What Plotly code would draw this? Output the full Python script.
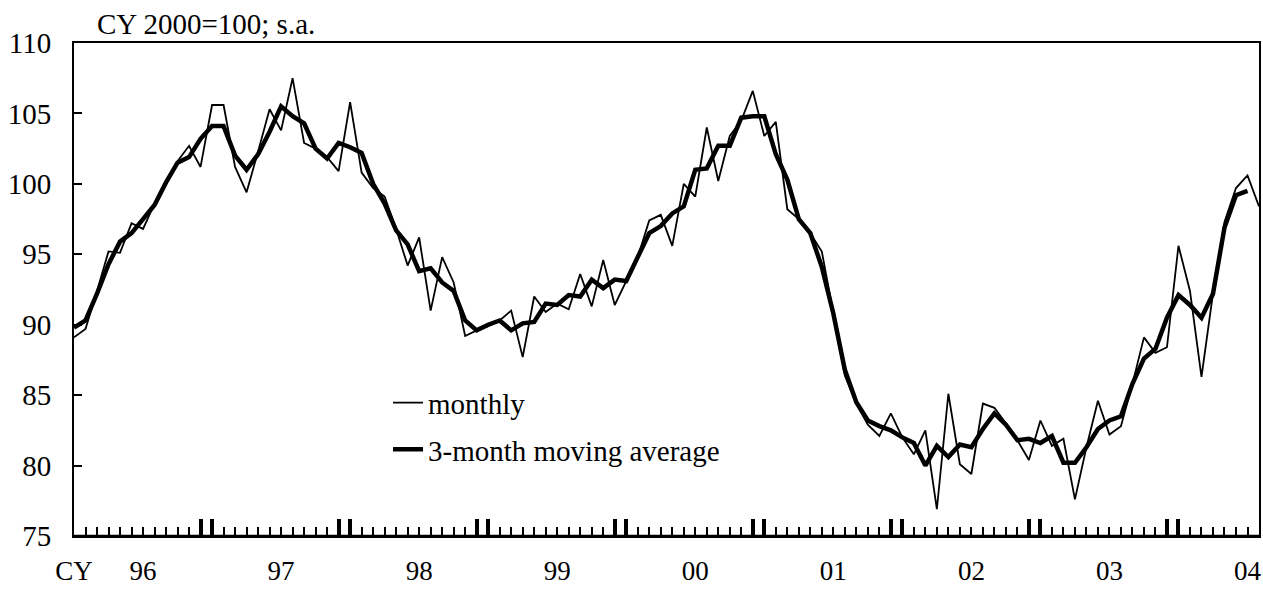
import plotly.graph_objects as go

# month index 0 = Jan 1996
months = list(range(104))

monthly = [89.1, 89.7, 92.4, 95.2, 95.1, 97.2, 96.8, 98.6, 100.2, 101.6,
           102.7, 101.2, 105.6, 105.6, 101.2, 99.4, 102.3, 105.3, 103.8, 107.5,
           102.9, 102.5, 101.9, 100.9, 105.8, 100.8, 99.7, 99.1, 96.8, 94.2,
           96.2, 91.0, 94.8, 93.0, 89.2, 89.6, 89.9, 90.3, 91.0, 87.7,
           92.0, 90.9, 91.5, 91.1, 93.6, 91.3, 94.6, 91.4, 93.1, 94.8,
           97.4, 97.8, 95.6, 100.0, 99.1, 104.0, 100.2, 103.4, 104.5, 106.6,
           103.4, 104.4, 98.2, 97.5, 96.5, 95.2, 90.8, 86.4, 84.4, 82.9,
           82.1, 83.7, 82.0, 80.8, 82.5, 76.9, 85.1, 80.1, 79.4, 84.4,
           84.1, 83.0, 81.8, 80.4, 83.2, 81.4, 81.9, 77.6, 81.3, 84.6,
           82.2, 82.8, 85.8, 89.1, 88.0, 88.4, 95.6, 92.4, 86.3, 92.2,
           97.3, 99.7, 100.6, 98.4]

ma3 = [89.8, 90.3, 92.2, 94.3, 95.9, 96.5, 97.5, 98.5, 100.1, 101.5,
       101.9, 103.2, 104.1, 104.1, 102.0, 101.0, 102.1, 103.7, 105.5, 104.8,
       104.3, 102.5, 101.8, 102.9, 102.6, 102.2, 100.0, 98.6, 96.7, 95.7,
       93.8, 94.0, 93.0, 92.4, 90.3, 89.6, 90.0, 90.3, 89.6, 90.1,
       90.2, 91.5, 91.4, 92.1, 92.0, 93.2, 92.6, 93.2, 93.1, 94.8,
       96.5, 97.0, 97.9, 98.4, 101.0, 101.1, 102.7, 102.7, 104.7, 104.8,
       104.8, 102.1, 100.3, 97.5, 96.5, 94.1, 90.8, 86.8, 84.5, 83.2,
       82.8, 82.5, 82.0, 81.6, 80.0, 81.4, 80.6, 81.5, 81.3, 82.6,
       83.7, 82.9, 81.8, 81.9, 81.6, 82.1, 80.2, 80.2, 81.3, 82.6,
       83.2, 83.5, 85.8, 87.6, 88.3, 90.5, 92.1, 91.4, 90.5, 92.2,
       96.9, 99.2, 99.5]

year_labels = ["96", "97", "98", "99", "00", "01", "02", "03", "04"]
year_label_pos = [6 + 12 * k for k in range(len(year_labels))]
heavy_ticks = [0] + [v for k in range(1, 9) for v in (12 * k - 1, 12 * k)]
y_ticks = [75, 80, 85, 90, 95, 100, 105, 110]

FONT = "Liberation Serif, Times New Roman, serif"
FS = 29

tick_text = []
for m in months:
    if m == 0:
        tick_text.append("CY")
    elif m in year_label_pos:
        tick_text.append(year_labels[year_label_pos.index(m)])
    else:
        tick_text.append("")

fig = go.Figure()
fig.add_trace(go.Scatter(
    x=months[:len(ma3)], y=ma3, mode="lines", name="3-month moving average",
    line=dict(color="black", width=4.5), xaxis="x2", yaxis="y",
    legendrank=2, legendgroup="b"))
fig.add_trace(go.Scatter(
    x=months, y=monthly, mode="lines", name="monthly",
    line=dict(color="black", width=1.8), xaxis="x", yaxis="y",
    legendrank=1, legendgroup="a"))

fig.update_layout(
    width=1263, height=589,
    margin=dict(l=74, r=4, t=43, b=53, autoexpand=False),
    paper_bgcolor="white", plot_bgcolor="white",
    font=dict(family=FONT, size=FS, color="black"),
    showlegend=True,
    legend=dict(x=0.265, y=0.322, xanchor="left", yanchor="top",
                bgcolor="rgba(0,0,0,0)", font=dict(size=FS),
                tracegroupgap=6, traceorder="grouped"),
    xaxis=dict(range=[0, 103], tickmode="array", tickvals=months,
               ticktext=tick_text, ticks="inside", ticklen=9, tickwidth=1.5,
               tickcolor="black", showline=True, linecolor="black",
               linewidth=2, mirror=True, showgrid=False, zeroline=False,
               ticklabelstandoff=10, automargin=False,
               ticklabeloverflow="allow", tickfont=dict(size=27)),
    xaxis2=dict(range=[0, 103], overlaying="x", anchor="y", side="bottom",
                tickmode="array", tickvals=heavy_ticks, ticks="inside",
                ticklen=17, tickwidth=4, tickcolor="black",
                showticklabels=False, showline=True, linecolor="black",
                linewidth=2, showgrid=False, zeroline=False,
                automargin=False),
    yaxis=dict(range=[75, 110], tickmode="array", tickvals=y_ticks,
               ticks="inside", ticklen=8, tickwidth=2, tickcolor="black",
               showline=True, linecolor="black", linewidth=2, mirror=True,
               showgrid=False, zeroline=False, ticklabelstandoff=15,
               automargin=False),
)

# bottom frame line of the plot area
fig.add_shape(type="line", xref="paper", yref="paper", x0=0, x1=1, y0=0, y1=0,
              line=dict(color="black", width=2.5), layer="above")

fig.add_annotation(text="CY 2000=100; s.a.", xref="paper", yref="paper",
                   x=0.0177, y=1.0, xanchor="left", yanchor="bottom",
                   yshift=1, showarrow=False,
                   font=dict(family=FONT, size=FS, color="black"))

fig.write_html("out.html", config={"displayModeBar": False},
               post_script="document.body.style.margin='0';"
                           "document.body.style.overflow='hidden';")
